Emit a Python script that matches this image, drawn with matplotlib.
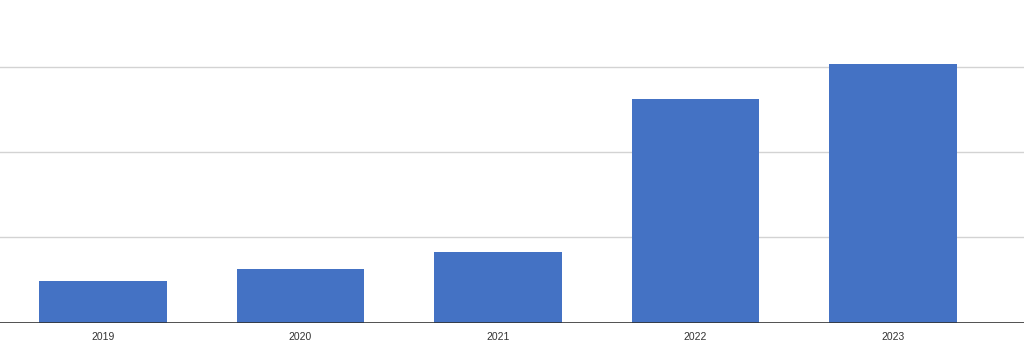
import matplotlib
matplotlib.use("Agg")
import matplotlib.pyplot as plt

years = ["2019", "2020", "2021", "2022", "2023"]
values = [0.485, 0.63, 0.83, 2.62, 3.03]
gridlines = [1, 2, 3]

fig = plt.figure(figsize=(10.24, 3.59), dpi=100)
ax = fig.add_axes([0, 1 - 322.5 / 359, 1, 322.5 / 359])

x = list(range(len(years)))
ax.bar(x, values, width=0.648, color="#4472C4", zorder=3)

ax.set_xlim(-103 / 197.5, (1024 - 103) / 197.5)
ax.set_ylim(0, 322.5 / 85.3)

for g in gridlines:
    ax.axhline(g, color="#d3d3d3", linewidth=1.0, zorder=1)
ax.axhline(0, color="#333333", linewidth=1.2, zorder=4)

ax.set_xticks(x)
ax.set_xticklabels(years, fontsize=7.5, color="#333333", family=["Liberation Sans", "DejaVu Sans"])
ax.tick_params(axis="x", length=0, pad=7)
ax.set_yticks([])
for s in ax.spines.values():
    s.set_visible(False)

fig.savefig("out.png", dpi=100)
